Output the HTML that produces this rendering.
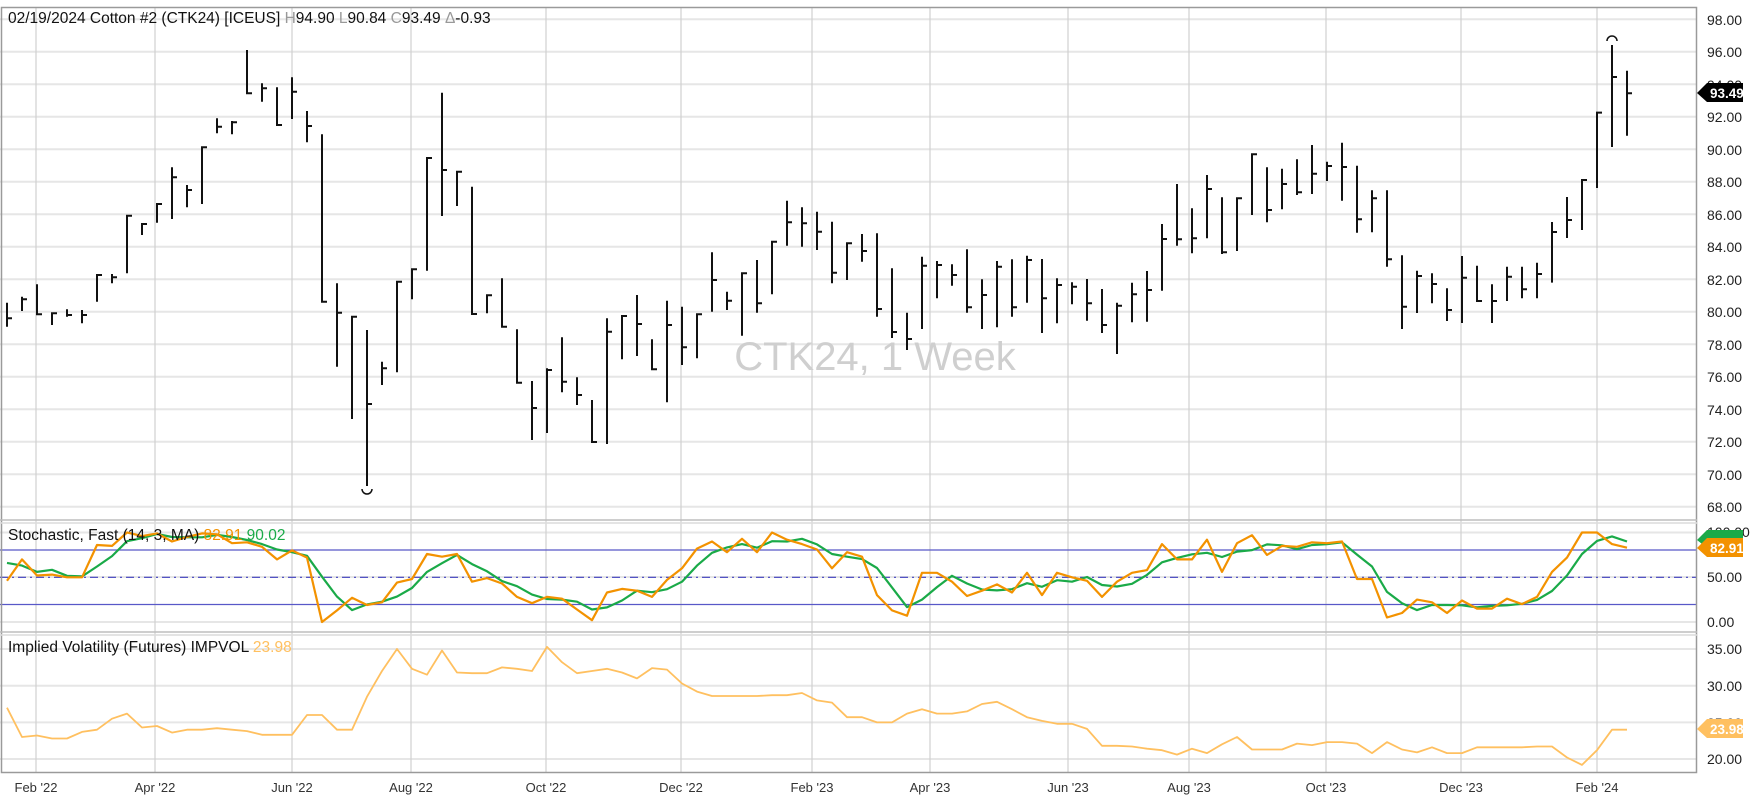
<!DOCTYPE html>
<html><head><meta charset="utf-8">
<style>
html,body{margin:0;padding:0;background:#fff;}
svg{display:block;font-family:"Liberation Sans","DejaVu Sans",sans-serif;}
</style></head>
<body>
<svg id="c" width="1753" height="803" viewBox="0 0 1753 803" xmlns="http://www.w3.org/2000/svg">
<rect x="0" y="0" width="1753" height="803" fill="#fff"/>
<g id="grid"></g>
<text x="875" y="370" font-size="40" fill="#cfcfcf" text-anchor="middle">CTK24, 1 Week</text>
<g id="bars" stroke="#111" stroke-width="2" fill="none"></g>
<g id="ind"></g>
<rect x="1.5" y="7.5" width="1695" height="765" fill="none" stroke="#9a9a9a" stroke-width="1.5"/>
<line x1="0" y1="520" x2="1697" y2="520" stroke="#bdbdbd" stroke-width="1.5"/>
<line x1="0" y1="523" x2="1697" y2="523" stroke="#dcdcdc" stroke-width="1.5"/>
<line x1="0" y1="632" x2="1697" y2="632" stroke="#bdbdbd" stroke-width="1.5"/>
<line x1="0" y1="635" x2="1697" y2="635" stroke="#dcdcdc" stroke-width="1.5"/>
<text x="8" y="23" font-size="15.5" fill="#111">02/19/2024 Cotton #2 (CTK24) [ICEUS] <tspan fill="#999">H</tspan>94.90 <tspan fill="#999">L</tspan>90.84 <tspan fill="#999">C</tspan>93.49 <tspan fill="#999">Δ</tspan>-0.93</text>
<text x="8" y="540" font-size="15.5" fill="#111">Stochastic, Fast  (14, 3, MA) <tspan fill="#f39200">82.91</tspan> <tspan fill="#1aaa48">90.02</tspan></text>
<text x="8" y="652" font-size="15.5" fill="#111">Implied Volatility (Futures) IMPVOL <tspan fill="#ffc060">23.98</tspan></text>
<g font-size="14" fill="#222" id="raxis">
<text x="1707" y="25">98.00</text><text x="1707" y="57">96.00</text><text x="1707" y="90">94.00</text>
<text x="1707" y="122">92.00</text><text x="1707" y="155">90.00</text><text x="1707" y="187">88.00</text>
<text x="1707" y="220">86.00</text><text x="1707" y="252">84.00</text><text x="1707" y="285">82.00</text>
<text x="1707" y="317">80.00</text><text x="1707" y="350">78.00</text><text x="1707" y="382">76.00</text>
<text x="1707" y="415">74.00</text><text x="1707" y="447">72.00</text><text x="1707" y="480">70.00</text>
<text x="1707" y="512">68.00</text>
<text x="1707" y="537">100.00</text><text x="1707" y="582">50.00</text><text x="1707" y="627">0.00</text>
<text x="1707" y="654">35.00</text><text x="1707" y="691">30.00</text><text x="1707" y="728">25.00</text><text x="1707" y="764">20.00</text>
</g>
<polygon points="1697,93 1707,83 1743,83 1743,102 1707,102" fill="#000"/>
<text x="1710" y="98" font-size="13.5" font-weight="bold" fill="#fff">93.49</text>
<polygon points="1697,540 1707,530 1743,530 1743,548 1707,548" fill="#1aaa48"/>
<polygon points="1697,548 1707,538 1743,538 1743,557 1707,557" fill="#f39200"/>
<text x="1710" y="553" font-size="13.5" font-weight="bold" fill="#fff">82.91</text>
<polygon points="1697,729 1707,719 1743,719 1743,738 1707,738" fill="#ffc060"/>
<text x="1710" y="734" font-size="13.5" font-weight="bold" fill="#fff">23.98</text>
<g font-size="13" fill="#333" text-anchor="middle">
<text x="36" y="792">Feb '22</text><text x="155" y="792">Apr '22</text><text x="292" y="792">Jun '22</text>
<text x="411" y="792">Aug '22</text><text x="546" y="792">Oct '22</text><text x="681" y="792">Dec '22</text>
<text x="812" y="792">Feb '23</text><text x="930" y="792">Apr '23</text><text x="1068" y="792">Jun '23</text>
<text x="1189" y="792">Aug '23</text><text x="1326" y="792">Oct '23</text><text x="1461" y="792">Dec '23</text>
<text x="1597" y="792">Feb '24</text>
</g>
</svg>
<script>
var NS="http://www.w3.org/2000/svg";
function el(p,n,a){var e=document.createElementNS(NS,n);for(var k in a)e.setAttribute(k,a[k]);p.appendChild(e);return e;}
var grid=document.getElementById('grid');
for(var p=98;p>=68;p-=2){var y=51.7+(96-p)*16.25;el(grid,'line',{x1:0,x2:1697,y1:y,y2:y,stroke:'#e6e6e6','stroke-width':2});}
[532.5,577,622].forEach(function(y){el(grid,'line',{x1:0,x2:1697,y1:y,y2:y,stroke:'#e6e6e6','stroke-width':2});});
[35,30,25,20].forEach(function(v){var y=759-(v-20)*7.33;el(grid,'line',{x1:0,x2:1697,y1:y,y2:y,stroke:'#e6e6e6','stroke-width':2});});
[36,155,292,411,546,681,812,930,1068,1189,1326,1461,1597].forEach(function(x){el(grid,'line',{x1:x,x2:x,y1:7,y2:773,stroke:'#d0d0d0','stroke-width':1.2});});
el(grid,'line',{x1:0,x2:1697,y1:550,y2:550,stroke:'#5858c8','stroke-width':1.2});
el(grid,'line',{x1:0,x2:1697,y1:604.5,y2:604.5,stroke:'#5858c8','stroke-width':1.2});
el(grid,'line',{x1:0,x2:1697,y1:577.3,y2:577.3,stroke:'#4040c0','stroke-width':1.2,'stroke-dasharray':'8,4,2,4'});
var B=[[302.7,326.7,318.3],[296.7,311,299.3],[284.3,315,314.3],[312.7,325,313.3],[309.3,316.7,315],[310,323.3,315],[274,301.7,275],[274,283.3,277.3],[215,273.3,215.7],[223.3,235,224],[203.3,222.7,204],[167.3,219,177.3],[185,207.3,190],[146.7,204,147.3],[118.3,133.3,126.7],[121,134.3,122.3],[50,93.3,93.3],[83.3,101.7,88.3],[87.3,125,125],[77.3,119,91.7],[111,142.3,126],[134.3,301.7,301.7],[283.3,366.7,312.7],[315.7,419,316.7],[330,486,404],[361.7,385,368.3],[280.7,372.3,281.7],[268.3,299.3,269.3],
[158,270.7,158],[92.7,216,170],[171,206,171.7],[186.7,314,314],[295,313.3,295.3],[278.3,326.7,326.7],[329.3,382.7,382.7],[381,440,408],[368.3,433,370],[337.3,392.3,381.7],[377.3,405,395],[400,442,442],[318.3,444,331.7],[315.7,359.3,316],[295,356,324],[339.3,369.3,369.3],[300.7,402.3,325],[306.7,365,347.3],[314,358.3,314.3],[252.3,311.7,280],[291.7,310,300.7],[272.7,335.7,273.3],[260,312.7,303.3],[241.7,294.3,241.7],[200.7,245.7,222.3],[207.3,246.7,223.3],[211.7,250,231.7],
[221.7,283.3,272.7],[242.3,280,243.3],[234,261.7,251],[233.3,316.7,309],[268.3,338,332],[312.7,350,339],[256.7,329,265.7],[261,298.3,265],[264.3,285.7,275],[249.3,312.7,307.3],[279.3,329,295],[261,327.3,266.7],[259.3,316.7,307.3],[255.7,302.7,260],[259,333,298.3],[278.3,323.3,285],[282.3,304.3,286.7],[279,320.7,303.3],[289,333,325],[302.7,354,305.7],[282.7,322.3,294.3],[271,321.7,290],[224,290.7,239],[184,245.7,239.3],[208.3,253.3,238.3],[175,238.3,189],[197.3,254,252.3],
[197.3,251,198.3],[153.3,215,154.3],[167.3,222.3,210],[168.7,209.3,184],[159.3,195,192.3],[145,194,173.7],[161.7,181,166],[142.7,200.7,167],[165.7,232.7,219.3],[190.3,232.3,198.3],[190.3,266.7,259.3],[255.3,329,306.7],[270.7,313,276],[273.3,303.3,284],[288.3,321,310],[256,323,277.7],[265.7,301,301],[284.3,323,301],[266.7,301,276.7],[266.7,298.3,289.3],[262.7,298.3,274],[222,282.6,232],[197,238,220],[179,230,180],[111.6,188,112.6],[45,147,77],[70.7,135.7,93.2]];
var bars=document.getElementById('bars');
var d='';
B.forEach(function(b,i){var x=7+15*i;d+='M'+x+' '+b[0]+'V'+b[1]+'M'+(x-1)+' '+b[2]+'H'+(x+5);});
el(bars,'path',{d:d});
el(bars,'path',{d:'M362 489 a5 5 0 0 0 10 0','stroke-width':1.5});
el(bars,'path',{d:'M1607 41 a5 5 0 0 1 10 0','stroke-width':1.5});
var K=[46,70,52,53,50,50,86,85,100,96,99,90,95,99,98,88,89,84,70,80,72,0,13,27,19,22,44,48,76,73,76,45,49,43,28,21,28,26,14,2,33,37,35,28,47,60,82,90,78,93,78,100,92,87,81,60,78,73,30,13,7,55,55,45,29,35,42,33,55,30,55,50,46,28,45,55,58,87,70,70,92,56,88,97,75,85,84,89,88,90,48,48,5,10,25,22,10,24,15,15,26,20,28,56,72,100,100,87,83];
var D=K.map(function(v,i){var a=K.slice(Math.max(0,i-2),i+1);return a.reduce(function(s,x){return s+x;},0)/a.length;});
D[0]=66;D[1]=63;
var IV=[27,23,23.2,22.8,22.8,23.7,24,25.5,26.2,24.3,24.5,23.6,24,24,24.2,24,23.8,23.3,23.3,23.3,26,26,24,24,28.5,32,35,32.3,31.5,34.8,31.8,31.7,31.7,32.5,32.3,32,35.3,33.2,31.7,32,32.3,31.8,31,32.4,32.2,30.3,29.2,28.6,28.6,28.6,28.6,28.7,28.7,29,28,27.7,25.7,25.7,25,25,26.2,26.8,26.2,26.2,26.5,27.5,27.8,26.8,25.7,25.2,24.8,24.8,24.1,21.8,21.8,21.7,21.4,21.2,20.6,21.4,20.8,22,23,21.3,21.3,21.3,22.1,21.9,22.3,22.3,22.1,20.8,22.3,21.3,20.9,21.6,20.8,20.8,21.6,21.6,21.6,21.6,21.7,21.7,20.2,19.2,21.2,24,24];
function pl(arr,f,col,w){var s=arr.map(function(v,i){return (7+15*i)+','+f(v).toFixed(1);}).join(' ');el(document.getElementById('ind'),'polyline',{points:s,fill:'none',stroke:col,'stroke-width':w,'stroke-linejoin':'round'});}
var sf=function(v){return 622-0.895*v;};
pl(D,sf,'#1aaa48',2.2);
pl(K,sf,'#f39200',2.2);
pl(IV,function(v){return 759-(v-20)*7.33;},'#ffc060',1.8);
</script>
</body></html>
